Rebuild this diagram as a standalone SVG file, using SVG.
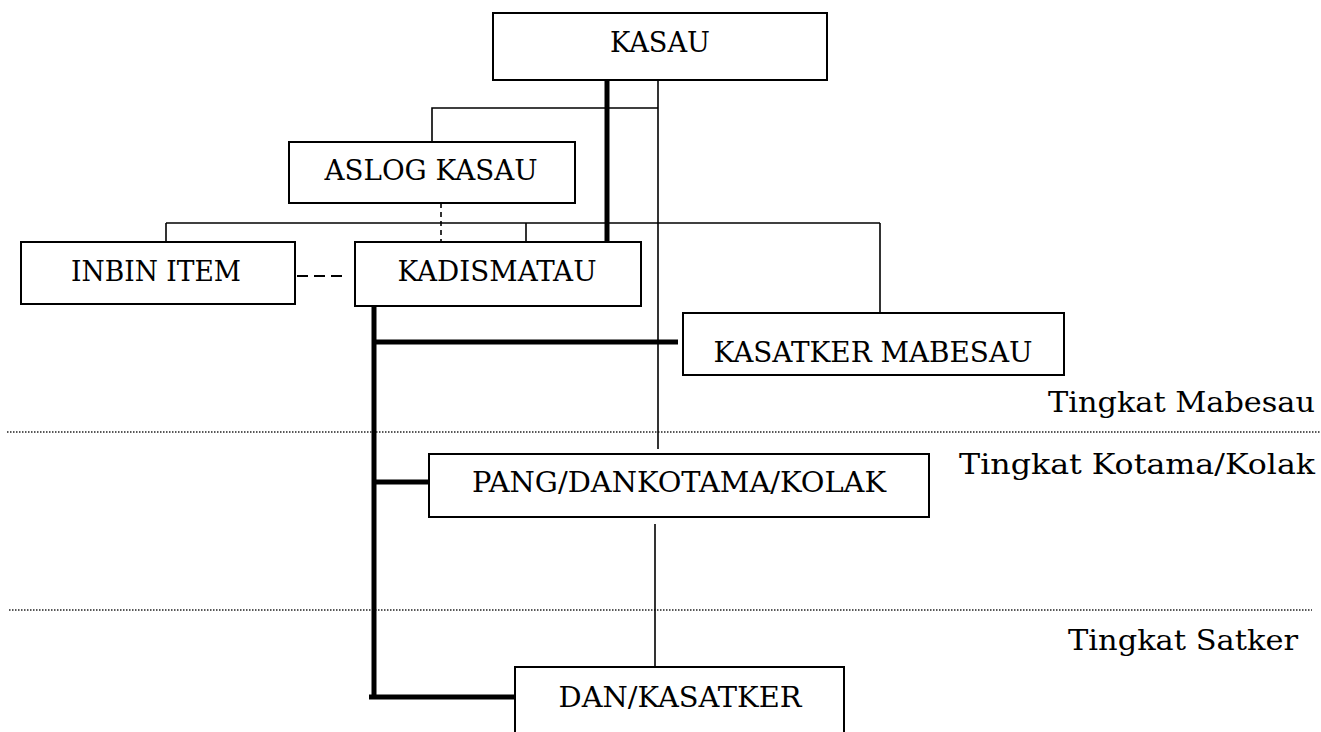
<svg xmlns="http://www.w3.org/2000/svg" width="1321" height="732" viewBox="0 0 1321 732">
<style>
.box{fill:#fff;stroke:#000;stroke-width:2}
.t{font-family:"DejaVu Serif","Liberation Serif",serif;font-size:27px;fill:#000;text-anchor:middle}
.lvl{font-family:"DejaVu Serif","Liberation Serif",serif;font-size:27px;fill:#000;text-anchor:end}
.thin{stroke:#000;stroke-width:1.6;fill:none}
.thick{stroke:#000;stroke-width:5;fill:none}
.dash{stroke:#000;stroke-width:1.6;stroke-dasharray:5 4;fill:none}
.dash2{stroke:#000;stroke-width:2.2;stroke-dasharray:11 6;fill:none}
.dot{stroke:#222;stroke-width:1.5;stroke-dasharray:1.5 1.5;fill:none}
</style>
<rect width="1321" height="732" fill="#fff"/>
<g id="levels">
<line class="dot" x1="7" y1="432" x2="1321" y2="432"/>
<line class="dot" x1="9" y1="610" x2="1312" y2="610"/>
<text class="lvl" x="1315" y="412" textLength="267" lengthAdjust="spacingAndGlyphs">Tingkat Mabesau</text>
<text class="lvl" x="1315" y="474" textLength="356" lengthAdjust="spacingAndGlyphs">Tingkat Kotama/Kolak</text>
<text class="lvl" x="1298" y="650" textLength="230" lengthAdjust="spacingAndGlyphs">Tingkat Satker</text>
</g>
<g id="connectors">
<polyline class="thin" points="432,142 432,108 658,108"/>
<line class="thin" x1="658" y1="80" x2="658" y2="449"/>
<line class="thin" x1="166" y1="223" x2="880" y2="223"/>
<line class="thin" x1="166" y1="223" x2="166" y2="242"/>
<line class="thin" x1="526" y1="223" x2="526" y2="242"/>
<line class="thin" x1="880" y1="223" x2="880" y2="313"/>
<line class="dash" x1="441" y1="203" x2="441" y2="242"/>
<line class="thick" x1="607" y1="80" x2="607" y2="242"/>
<line class="thick" x1="374" y1="306" x2="374" y2="699"/>
<line class="thick" x1="374" y1="342" x2="678" y2="342"/>
<line class="thick" x1="374" y1="482" x2="429" y2="482"/>
<line class="thick" x1="369" y1="697" x2="515" y2="697"/>
<line class="dash2" x1="297" y1="276" x2="346" y2="276"/>
<line class="thin" x1="655" y1="524" x2="655" y2="667"/>
</g>
<g id="kasau"><rect class="box" x="493" y="13" width="334" height="67"/><text class="t" x="660" y="52" textLength="100" lengthAdjust="spacingAndGlyphs">KASAU</text></g>
<g id="aslog"><rect class="box" x="289" y="142" width="286" height="61"/><text class="t" x="431" y="180" textLength="213" lengthAdjust="spacingAndGlyphs">ASLOG KASAU</text></g>
<g id="inbin"><rect class="box" x="21" y="242" width="274" height="62"/><text class="t" x="156" y="281" textLength="170" lengthAdjust="spacingAndGlyphs">INBIN ITEM</text></g>
<g id="kadismatau"><rect class="box" x="355" y="242" width="286" height="64"/><text class="t" x="497" y="281" textLength="199" lengthAdjust="spacingAndGlyphs">KADISMATAU</text></g>
<g id="kasatker-mabesau"><rect class="box" x="683" y="313" width="381" height="62"/><text class="t" x="873" y="362" textLength="319" lengthAdjust="spacingAndGlyphs">KASATKER MABESAU</text></g>
<g id="pang"><rect class="box" x="429" y="454" width="500" height="63"/><text class="t" x="679" y="492" textLength="414" lengthAdjust="spacingAndGlyphs">PANG/DANKOTAMA/KOLAK</text></g>
<g id="dan"><rect class="box" x="515" y="667" width="329" height="80"/><text class="t" x="680" y="707" textLength="243" lengthAdjust="spacingAndGlyphs">DAN/KASATKER</text></g>
</svg>
